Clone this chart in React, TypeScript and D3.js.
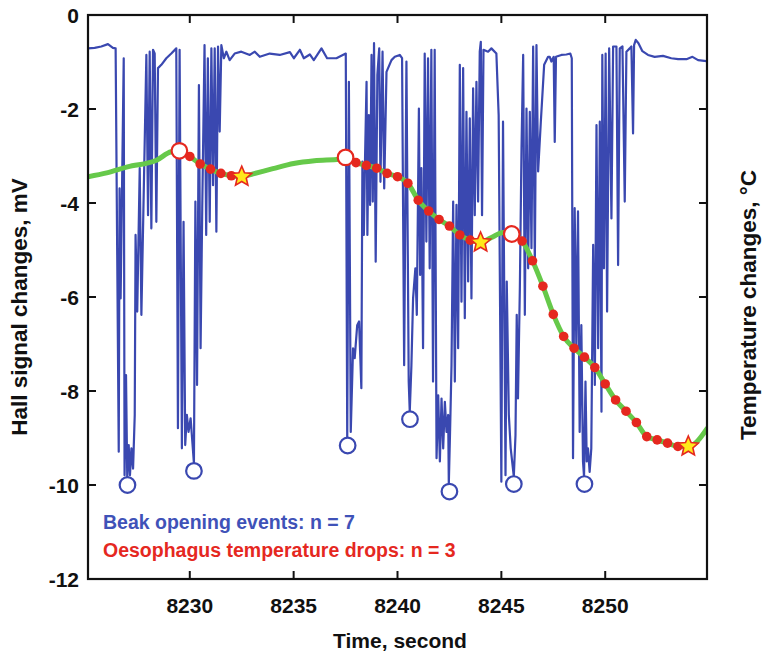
import React from 'react';
import * as d3 from 'd3';

const xTicks = [8230, 8235, 8240, 8245, 8250];
const yTicks = [0, -2, -4, -6, -8, -10, -12];
const rightTicks = [-2, -4, -6, -8, -10];

// Hall signal trace [time s, mV]
const hallSignal: [number, number][] = [
  [8225.10, -0.71], [8225.42, -0.70], [8225.74, -0.67], [8226.06, -0.62], [8226.30, -0.70], [8226.43, -0.71],
  [8226.58, -9.29], [8226.62, -3.69], [8226.67, -6.03], [8226.82, -0.92], [8226.86, -9.79], [8226.93, -7.66],
  [8226.99, -9.84], [8227.06, -9.15], [8227.12, -9.79], [8227.19, -9.22], [8227.27, -9.65], [8227.35, -8.51],
  [8227.39, -4.68], [8227.47, -6.31], [8227.59, -3.26], [8227.67, -6.38], [8227.75, -4.54], [8227.91, -0.85],
  [8227.99, -4.26], [8228.07, -0.78], [8228.15, -4.54], [8228.23, -0.74], [8228.31, -0.82], [8228.39, -4.40],
  [8228.47, -1.13], [8228.63, -1.06], [8228.87, -0.92], [8229.11, -0.82], [8229.35, -0.71], [8229.43, -8.79],
  [8229.51, -0.74], [8229.62, -9.22], [8229.70, -4.40], [8229.78, -9.15], [8229.86, -8.51], [8229.94, -8.87],
  [8230.04, -8.58], [8230.20, -9.54], [8230.27, -3.97], [8230.35, -7.87], [8230.44, -1.49], [8230.52, -7.09],
  [8230.60, -4.11], [8230.71, -0.64], [8230.79, -4.68], [8230.87, -0.92], [8230.96, -4.40], [8231.04, -0.71],
  [8231.12, -3.62], [8231.20, -0.71], [8231.28, -4.61], [8231.36, -0.67], [8231.44, -2.48], [8231.52, -0.64],
  [8231.64, -0.92], [8231.76, -0.78], [8231.92, -0.96], [8232.16, -0.82], [8232.48, -0.78], [8232.89, -0.85],
  [8233.13, -0.78], [8233.37, -0.89], [8233.85, -0.82], [8234.33, -0.85], [8234.82, -0.79], [8235.01, -0.92],
  [8235.30, -0.74], [8235.49, -0.92], [8235.78, -0.84], [8235.97, -0.96], [8236.34, -0.71], [8236.61, -0.92],
  [8237.06, -0.92], [8237.51, -0.82], [8237.58, -9.00], [8237.66, -1.42], [8237.75, -8.87], [8237.86, -7.09],
  [8237.94, -7.30], [8238.06, -6.60], [8238.15, -6.52], [8238.26, -7.94], [8238.31, -3.12], [8238.38, -4.68],
  [8238.44, -2.98], [8238.51, -1.42], [8238.55, -4.68], [8238.62, -2.13], [8238.68, -4.04], [8238.75, -0.85],
  [8238.81, -3.97], [8238.87, -0.60], [8238.95, -5.25], [8239.03, -1.28], [8239.12, -0.71], [8239.18, -3.55],
  [8239.28, -0.78], [8239.36, -3.69], [8239.47, -1.21], [8239.71, -0.96], [8239.87, -0.89], [8240.11, -0.85],
  [8240.22, -0.92], [8240.32, -7.45], [8240.43, -0.99], [8240.54, -7.80], [8240.59, -8.44], [8240.67, -7.45],
  [8240.75, -6.03], [8240.86, -5.39], [8240.93, -6.38], [8241.03, -1.99], [8241.09, -5.53], [8241.15, -3.26],
  [8241.23, -7.09], [8241.31, -0.82], [8241.39, -4.82], [8241.47, -0.92], [8241.55, -5.39], [8241.63, -0.74],
  [8241.71, -7.80], [8241.79, -0.74], [8241.88, -9.43], [8241.96, -8.09], [8242.04, -9.50], [8242.12, -8.16],
  [8242.20, -9.22], [8242.28, -8.23], [8242.36, -8.87], [8242.44, -8.51], [8242.47, -9.98], [8242.53, -8.87],
  [8242.60, -7.45], [8242.68, -3.97], [8242.76, -7.80], [8242.84, -4.04], [8242.92, -7.09], [8243.00, -1.06],
  [8243.08, -6.10], [8243.16, -1.13], [8243.24, -6.45], [8243.32, -2.06], [8243.40, -5.67], [8243.48, -2.20],
  [8243.56, -6.03], [8243.64, -1.56], [8243.72, -4.26], [8243.80, -1.42], [8243.88, -3.97], [8243.96, -0.78],
  [8244.01, -0.57], [8244.07, -4.26], [8244.14, -0.74], [8244.36, -0.78], [8244.52, -0.71], [8244.76, -0.82],
  [8244.87, -2.13], [8245.00, -9.93], [8245.08, -2.27], [8245.20, -9.79], [8245.26, -5.67], [8245.36, -8.51],
  [8245.45, -9.22], [8245.60, -9.82], [8245.68, -8.94], [8245.74, -6.38], [8245.80, -8.16], [8245.89, -5.82],
  [8245.97, -2.84], [8246.05, -0.85], [8246.13, -6.38], [8246.21, -1.99], [8246.29, -5.39], [8246.37, -2.06],
  [8246.45, -4.96], [8246.53, -0.67], [8246.61, -5.32], [8246.69, -0.64], [8246.77, -3.33], [8246.90, -2.27],
  [8247.06, -1.06], [8247.25, -0.89], [8247.33, -0.89], [8247.41, -0.99], [8247.52, -0.89], [8247.57, -2.70],
  [8247.63, -0.89], [8247.89, -0.85], [8248.13, -0.84], [8248.32, -0.82], [8248.39, -0.92], [8248.45, -9.43],
  [8248.53, -4.11], [8248.61, -7.09], [8248.69, -4.18], [8248.77, -8.87], [8248.85, -6.60], [8248.93, -9.50],
  [8248.98, -9.82], [8249.05, -7.80], [8249.11, -9.50], [8249.17, -9.22], [8249.25, -9.72], [8249.33, -9.22],
  [8249.42, -4.89], [8249.50, -7.87], [8249.58, -2.34], [8249.66, -7.09], [8249.74, -2.27], [8249.82, -8.44],
  [8249.86, -0.85], [8249.94, -5.39], [8250.02, -0.82], [8250.09, -6.31], [8250.19, -0.71], [8250.30, -4.33],
  [8250.38, -0.67], [8250.54, -0.67], [8250.62, -5.32], [8250.70, -0.71], [8250.83, -0.67], [8250.94, -3.97],
  [8251.02, -0.78], [8251.18, -0.71], [8251.26, -0.67], [8251.34, -2.52], [8251.39, -0.64], [8251.47, -0.53],
  [8251.60, -0.60], [8251.79, -0.77], [8252.06, -0.85], [8252.38, -0.89], [8252.78, -0.87], [8253.18, -0.92],
  [8253.51, -0.94], [8253.91, -0.94], [8254.20, -0.89], [8254.47, -0.96], [8254.87, -0.98],
];

// Beak opening events (open blue circles)
const beakEvents: [number, number][] = [
  [8227.0, -10.0], [8230.2, -9.7], [8237.6, -9.16], [8240.6, -8.6], [8242.5, -10.14], [8245.6, -9.98], [8249.0, -9.98],
];

// Oesophagus temperature trace (plotted against the same vertical range)
const temperatureTrace: [number, number][] = [
  [8225.1, -3.44], [8226.0, -3.36], [8227.0, -3.23], [8228.4, -3.09], [8229.1, -2.91],
  [8233.05, -3.38], [8234.0, -3.27], [8235.0, -3.16], [8236.0, -3.1], [8237.2, -3.07],
  [8244.5, -4.74], [8245.1, -4.63], [8254.9, -8.8],
];
const dropStarts: [number, number][] = [[8229.5, -2.89], [8237.5, -3.03], [8245.5, -4.66]];
const dropEnds: [number, number][] = [[8232.5, -3.44], [8244.0, -4.84], [8254.0, -9.18]];
const dropSamples: [number, number][] = [
  [8230.0, -3.01], [8230.5, -3.17], [8231.0, -3.28], [8231.5, -3.37], [8232.0, -3.42],
  [8238.0, -3.14], [8238.5, -3.2], [8239.0, -3.26], [8239.5, -3.37], [8240.0, -3.44], [8240.5, -3.58],
  [8241.0, -3.94], [8241.5, -4.17], [8242.0, -4.35], [8242.5, -4.49], [8243.0, -4.68], [8243.5, -4.79],
  [8246.0, -4.81], [8246.5, -5.23], [8247.0, -5.77], [8247.5, -6.37], [8248.0, -6.84], [8248.5, -7.09],
  [8249.0, -7.28], [8249.5, -7.5], [8250.0, -7.85], [8250.5, -8.19], [8251.0, -8.43], [8251.5, -8.67],
  [8252.0, -8.97], [8252.5, -9.04], [8253.0, -9.11], [8253.5, -9.18],
];

const W = 763, H = 657;
const L = 88, R = 707, T = 15, B = 579;
const BLUE = '#3a48b0';
const RED = '#e5281f';
const GREEN = '#66c94a';
const FONT = '"Liberation Sans", Arial, Helvetica, sans-serif';

function starPath(cx: number, cy: number, ro: number, ri: number) {
  const pts: string[] = [];
  for (let i = 0; i < 10; i++) {
    const a = -Math.PI / 2 + (i * Math.PI) / 5;
    const r = i % 2 === 0 ? ro : ri;
    pts.push(`${cx + r * Math.cos(a)},${cy + r * Math.sin(a)}`);
  }
  return 'M' + pts.join('L') + 'Z';
}

export default function App() {
  const x = d3.scaleLinear().domain([8225.1, 8254.9]).range([L, R]);
  const y = d3.scaleLinear().domain([0, -12]).range([T, B]);
  const line = d3.line<[number, number]>().x(d => x(d[0])).y(d => y(d[1]));
  const greenPts = [...temperatureTrace, ...dropStarts, ...dropEnds, ...dropSamples].sort((a, b) => a[0] - b[0]);
  const greenLine = d3.line<[number, number]>().x(d => x(d[0])).y(d => y(d[1])).curve(d3.curveMonotoneX);
  const tickLen = 8;

  return (
    <svg width={W} height={H} style={{ position: 'absolute', left: 0, top: 0, display: 'block', background: '#fff' }} fontFamily={FONT}>
      <defs>
        <clipPath id="plot">
          <rect x={L} y={T} width={R - L} height={B - T} />
        </clipPath>
      </defs>
      <g clipPath="url(#plot)">
        <path d={line(hallSignal) || ''} fill="none" stroke={BLUE} strokeWidth={2.2} strokeLinejoin="round" />
        {beakEvents.map((d, i) => (
          <circle key={'b' + i} cx={x(d[0])} cy={y(d[1])} r={7.8} fill="#fff" stroke={BLUE} strokeWidth={2.2} />
        ))}
        <path d={greenLine(greenPts) || ''} fill="none" stroke={GREEN} strokeWidth={5} strokeLinecap="round" />
        {dropSamples.map((d, i) => (
          <circle key={'s' + i} cx={x(d[0])} cy={y(d[1])} r={4.8} fill={RED} />
        ))}
        {dropStarts.map((d, i) => (
          <circle key={'o' + i} cx={x(d[0])} cy={y(d[1])} r={7.8} fill="#fff" stroke={RED} strokeWidth={2.2} />
        ))}
        {dropEnds.map((d, i) => (
          <path key={'e' + i} d={starPath(x(d[0]), y(d[1]), 10.5, 4.8)} fill="#ffe81a" stroke={RED} strokeWidth={1.6} strokeLinejoin="miter" />
        ))}
      </g>
      {/* frame */}
      <rect x={L} y={T} width={R - L} height={B - T} fill="none" stroke="#111" strokeWidth={2.2} />
      {/* ticks */}
      {xTicks.map(t => (
        <g key={'xt' + t}>
          <line x1={x(t)} x2={x(t)} y1={B} y2={B - tickLen} stroke="#111" strokeWidth={2} />
          <line x1={x(t)} x2={x(t)} y1={T} y2={T + tickLen} stroke="#111" strokeWidth={2} />
          <text x={x(t)} y={B + 34} textAnchor="middle" fontSize={21} fontWeight="bold" fill="#111">{t}</text>
        </g>
      ))}
      {yTicks.map(v => (
        <g key={'yt' + v}>
          {v !== 0 && v !== -12 && (
            <line x1={L} x2={L + tickLen} y1={y(v)} y2={y(v)} stroke="#111" strokeWidth={2} />
          )}
          <text x={79} y={y(v)} dy="0.36em" textAnchor="end" fontSize={21} fontWeight="bold" fill="#111">{v}</text>
        </g>
      ))}
      {rightTicks.map(v => (
        <line key={'rt' + v} x1={R} x2={R - tickLen} y1={y(v)} y2={y(v)} stroke="#111" strokeWidth={2} />
      ))}
      {/* axis titles */}
      <text x={400} y={648} textAnchor="middle" fontSize={21} fontWeight="bold" fill="#111">Time, second</text>
      <text transform={`translate(27,307) rotate(-90)`} textAnchor="middle" fontSize={22.5} fontWeight="bold" fill="#111">Hall signal changes, mV</text>
      <text transform={`translate(756,305) rotate(-90)`} textAnchor="middle" fontSize={22.5} fontWeight="bold" fill="#111">Temperature changes, °C</text>
      {/* legend */}
      <text x={103} y={529} fontSize={19.5} fontWeight="bold" fill="#3f52b8">Beak opening events: n = 7</text>
      <text x={103} y={557} fontSize={19.5} fontWeight="bold" fill={RED}>Oesophagus temperature drops: n = 3</text>
    </svg>
  );
}
